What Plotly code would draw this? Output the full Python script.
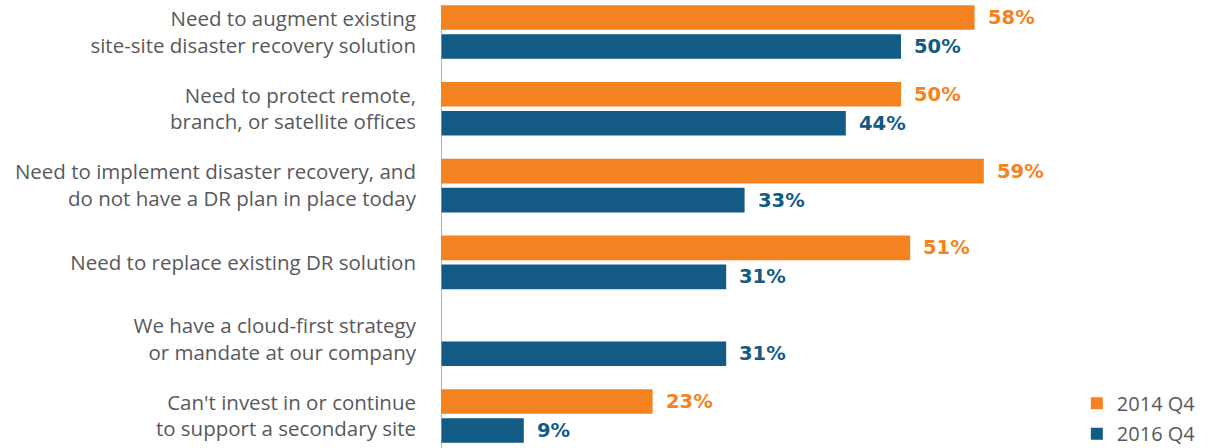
import plotly.graph_objects as go

categories = [
    "Need to augment existing<br>site-site disaster recovery solution",
    "Need to protect remote,<br>branch, or satellite offices",
    "Need to implement disaster recovery, and<br>do not have a DR plan in place today",
    "Need to replace existing DR solution",
    "We have a cloud-first strategy<br>or mandate at our company",
    "Can't invest in or continue<br>to support a secondary site",
]
series_names = ["2014 Q4", "2016 Q4"]
values_2014 = [58, 50, 59, 51, None, 23]
values_2016 = [50, 44, 33, 31, 31, 9]

ORANGE = "#F58220"
BLUE = "#135B84"
GRAY = "#58595B"
LABEL_FONT = "Open Sans, sans-serif"
VALUE_FONT = "DejaVu Sans, sans-serif"

fig = go.Figure()
legend_ids = ["legend", "legend2"]
for name, vals, color, lg in [(series_names[0], values_2014, ORANGE, legend_ids[0]),
                              (series_names[1], values_2016, BLUE, legend_ids[1])]:
    fig.add_trace(go.Bar(
        y=categories, x=vals, name=name, orientation="h",
        marker=dict(color=color, line=dict(width=0)),
        hoverinfo="skip", legend=lg,
    ))

# value labels placed just beyond each bar end
for vals, color, off in [(values_2014, ORANGE, -0.189),
                         (values_2016, BLUE, 0.189)]:
    for i, v in enumerate(vals):
        if v is None:
            continue
        fig.add_annotation(
            x=v, y=i + off, xref="x", yref="y",
            text=f"<b>{v}%</b>", showarrow=False,
            xanchor="left", yanchor="middle", xshift=11,
            font=dict(family=VALUE_FONT, size=19.5, color=color),
        )

# vertical baseline at zero
fig.add_shape(type="line", xref="x", yref="paper", x0=0, x1=0, y0=0, y1=0.989,
              line=dict(color="#9A9A9A", width=1.5))

legend_common = dict(
    x=0.829, xanchor="left", yanchor="middle",
    font=dict(size=20, color=GRAY, family=LABEL_FONT),
    bgcolor="rgba(0,0,0,0)",
)

fig.update_layout(
    width=1208, height=448,
    margin=dict(l=441, r=0, t=0, b=0, autoexpand=False),
    paper_bgcolor="white", plot_bgcolor="white",
    barmode="group", bargap=0.245, bargroupgap=0.152,
    font=dict(family=LABEL_FONT, color=GRAY, size=18),
    showlegend=True,
    legend=dict(y=0.1, **legend_common),
    legend2=dict(y=0.032, **legend_common),
    xaxis=dict(range=[0, 767 / 9.2], showgrid=False, zeroline=False,
               showticklabels=False, showline=False, fixedrange=True),
    yaxis=dict(type="category", range=[5.417, -0.417], showgrid=False,
               zeroline=False, showline=False,
               ticks="", ticklabelstandoff=24,
               tickfont=dict(size=20.5, color=GRAY, family=LABEL_FONT)),
)

fig.write_html("out.html")
